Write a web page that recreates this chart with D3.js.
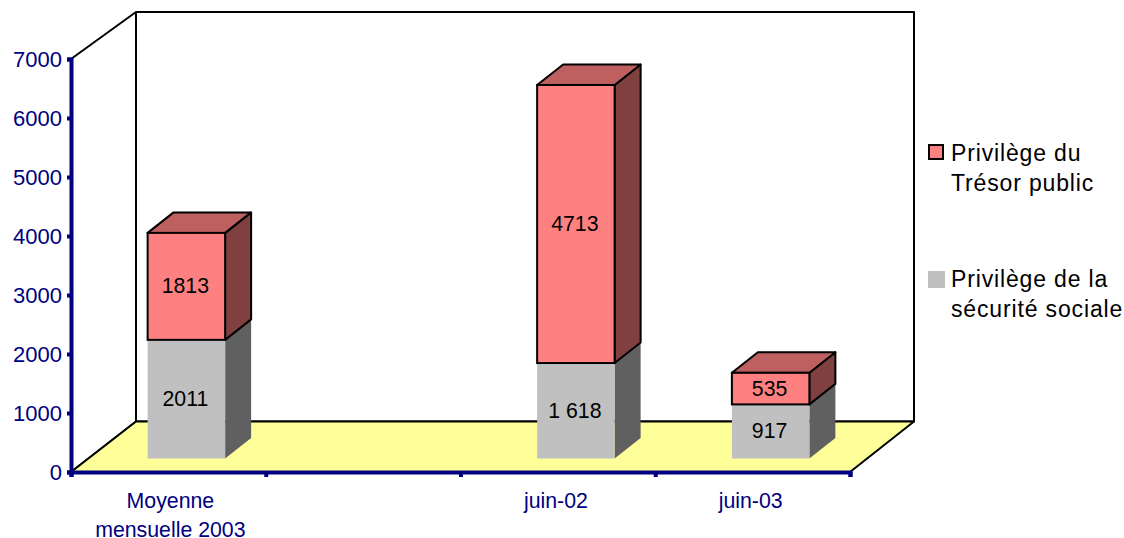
<!DOCTYPE html>
<html><head><meta charset="utf-8">
<script src="https://cdn.jsdelivr.net/npm/d3@7"></script>
<style>html,body{margin:0;padding:0;background:#fff}svg{display:block}text{font-family:"Liberation Sans",Arial,sans-serif}</style>
</head><body><svg id="c" width="1124" height="538"></svg>
<script>
const categories = [["Moyenne","mensuelle 2003"],[""],["juin-02"],["juin-03"]];
const categoryKeys = ["Moyenne mensuelle 2003","-","juin-02","juin-03"];
const securiteSociale = [2011,null,1618,917];
const tresorPublic = [1813,null,4713,535];
const securiteLabels = ["2011","","1 618","917"];
const tresorLabels = ["1813","","4713","535"];
const yTicks = [0,1000,2000,3000,4000,5000,6000,7000];
const legendNames = [["Privilège du","Trésor public"],["Privilège de la","sécurité sociale"]];

const NAVY="#000080", FS=21.3;
const svg=d3.select("#c");
const x=d3.scaleBand().domain(categoryKeys).range([71,850]);
const y=d3.scaleLinear().domain([0,7000]).range([472,59]);
const bx=d3.scaleLinear().domain([0,categoryKeys.length]).range([71,850]);
const wall={dx:65,dy:-50.5,top:12};
const bar={w:77.5,ox:18,oy:-13.5,dx:26,dy:-20.5};
const poly=(pts,fill,stroke)=>svg.append("polygon").attr("points",pts.map(p=>p.join(",")).join(" "))
  .attr("fill",fill).attr("stroke",stroke||"none").attr("stroke-width",2).attr("stroke-linejoin","round");

// walls and floor
const xL=x.range()[0], xR=x.range()[1], y0=y(0), y7=y(7000);
poly([[xL,y7],[xL+wall.dx,wall.top],[xR+wall.dx-1,wall.top],[xR+wall.dx-1,y0+wall.dy],[xL+wall.dx,y0+wall.dy],[xL,y0]],"#fff","#000");
svg.append("line").attr("x1",xL+wall.dx).attr("x2",xL+wall.dx).attr("y1",wall.top).attr("y2",y0+wall.dy).attr("stroke","#000").attr("stroke-width",2);
poly([[xL,y0],[xL+wall.dx,y0+wall.dy],[xR+wall.dx-1,y0+wall.dy],[xR,y0]],"#FFFF99","#000");

// bars
function block(cx,v0,v1,c,outlined){
  const l=cx-bar.w/2+bar.ox, r=l+bar.w, b=y(v0)+bar.oy, t=y(v1)+bar.oy;
  const s=outlined?"#000":null;
  poly([[r,b],[r+bar.dx,b+bar.dy],[r+bar.dx,t+bar.dy],[r,t]],c.side,s);
  poly([[l,t],[l+bar.dx,t+bar.dy],[r+bar.dx,t+bar.dy],[r,t]],c.top,s);
  svg.append("rect").attr("x",l).attr("y",t).attr("width",bar.w).attr("height",b-t)
    .attr("fill",c.front).attr("stroke",s||"none").attr("stroke-width",2);
}
function label(cx,v0,v1,s){
  svg.append("text").attr("x",cx+bar.ox-1).attr("y",(y(v0)+y(v1))/2+bar.oy+7).attr("text-anchor","middle")
    .attr("font-size",FS).attr("fill","#000").text(s);
}
const grey={front:"#C0C0C0",side:"#606060",top:"#606060"}, red={front:"#FF8080",side:"#804040",top:"#BF6060"};
categoryKeys.forEach((k,i)=>{
  if(securiteSociale[i]==null) return;
  const cx=x(k)+x.bandwidth()/2, a=securiteSociale[i], t=a+tresorPublic[i];
  block(cx,0,a,grey,false);
  block(cx,a,t,red,true);
  label(cx,0,a,securiteLabels[i]);
  label(cx,a,t,tresorLabels[i]);
});

// axes
const gy=svg.append("g").attr("transform",`translate(${xL},0)`)
  .call(d3.axisLeft(y).tickValues(yTicks).tickSize(4).tickPadding(5).tickFormat(d3.format("d")));
const gx=svg.append("g").attr("transform",`translate(0,${y0})`)
  .call(d3.axisBottom(bx).ticks(categoryKeys.length).tickSize(5).tickFormat(""));
[gy,gx].forEach(g=>{
  g.select(".domain").attr("stroke",NAVY).attr("stroke-width",4);
  g.selectAll(".tick line").attr("stroke",NAVY).attr("stroke-width",4);
  g.selectAll("text").attr("fill",NAVY).attr("font-size",FS+0.7).attr("font-family",'"Liberation Sans",Arial,sans-serif');
});
categories.forEach((lines,i)=>{
  const cx=x(categoryKeys[i])+x.bandwidth()/2-(i===0?-2:2);
  lines.forEach((s,j)=>svg.append("text").attr("x",cx).attr("y",508+j*29).attr("text-anchor","middle")
    .attr("font-size",FS).attr("fill",NAVY).text(s));
});

// legend
svg.append("rect").attr("x",929).attr("y",145).attr("width",14).attr("height",14).attr("fill","#FF8080").attr("stroke","#000").attr("stroke-width",2);
svg.append("rect").attr("x",928).attr("y",271).attr("width",17).attr("height",17).attr("fill","#C0C0C0");
legendNames.forEach((lines,i)=>lines.forEach((s,j)=>svg.append("text").attr("x",951).attr("y",[161,287][i]+j*30)
  .attr("font-size",23).attr("letter-spacing",0.85).attr("fill","#000").text(s)));
</script></body></html>
